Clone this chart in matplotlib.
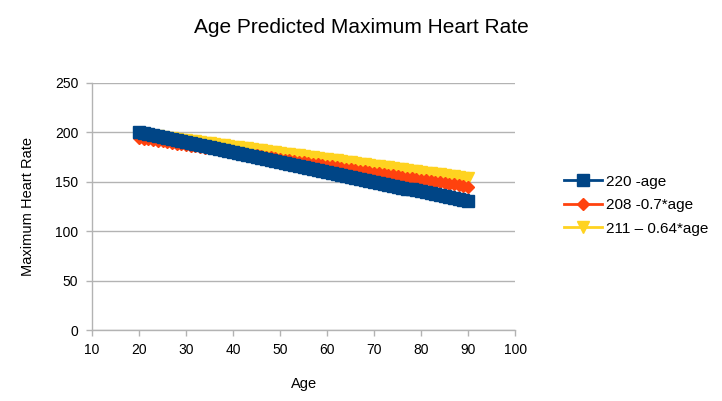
import matplotlib
matplotlib.use("Agg")
import matplotlib.pyplot as plt

plt.rcParams['font.family'] = ['Liberation Sans', 'DejaVu Sans']

ages = [20, 21, 22, 23, 24, 25, 26, 27, 28, 29, 30, 31, 32, 33, 34, 35, 36, 37, 38, 39,
        40, 41, 42, 43, 44, 45, 46, 47, 48, 49, 50, 51, 52, 53, 54, 55, 56, 57, 58, 59,
        60, 61, 62, 63, 64, 65, 66, 67, 68, 69, 70, 71, 72, 73, 74, 75, 76, 77, 78, 79,
        80, 81, 82, 83, 84, 85, 86, 87, 88, 89, 90]

hr_220 = [200, 199, 198, 197, 196, 195, 194, 193, 192, 191, 190, 189, 188, 187, 186,
          185, 184, 183, 182, 181, 180, 179, 178, 177, 176, 175, 174, 173, 172, 171,
          170, 169, 168, 167, 166, 165, 164, 163, 162, 161, 160, 159, 158, 157, 156,
          155, 154, 153, 152, 151, 150, 149, 148, 147, 146, 145, 144, 143, 142, 141,
          140, 139, 138, 137, 136, 135, 134, 133, 132, 131, 130]

hr_208 = [194.0, 193.3, 192.6, 191.9, 191.2, 190.5, 189.8, 189.1, 188.4, 187.7,
          187.0, 186.3, 185.6, 184.9, 184.2, 183.5, 182.8, 182.1, 181.4, 180.7,
          180.0, 179.3, 178.6, 177.9, 177.2, 176.5, 175.8, 175.1, 174.4, 173.7,
          173.0, 172.3, 171.6, 170.9, 170.2, 169.5, 168.8, 168.1, 167.4, 166.7,
          166.0, 165.3, 164.6, 163.9, 163.2, 162.5, 161.8, 161.1, 160.4, 159.7,
          159.0, 158.3, 157.6, 156.9, 156.2, 155.5, 154.8, 154.1, 153.4, 152.7,
          152.0, 151.3, 150.6, 149.9, 149.2, 148.5, 147.8, 147.1, 146.4, 145.7,
          145.0]

hr_211 = [198.2, 197.56, 196.92, 196.28, 195.64, 195.0, 194.36, 193.72, 193.08, 192.44,
          191.8, 191.16, 190.52, 189.88, 189.24, 188.6, 187.96, 187.32, 186.68, 186.04,
          185.4, 184.76, 184.12, 183.48, 182.84, 182.2, 181.56, 180.92, 180.28, 179.64,
          179.0, 178.36, 177.72, 177.08, 176.44, 175.8, 175.16, 174.52, 173.88, 173.24,
          172.6, 171.96, 171.32, 170.68, 170.04, 169.4, 168.76, 168.12, 167.48, 166.84,
          166.2, 165.56, 164.92, 164.28, 163.64, 163.0, 162.36, 161.72, 161.08, 160.44,
          159.8, 159.16, 158.52, 157.88, 157.24, 156.6, 155.96, 155.32, 154.68, 154.04,
          153.4]

labels = ["220 -age", "208 -0.7*age", "211 \u2013 0.64*age"]
x_ticks = [10, 20, 30, 40, 50, 60, 70, 80, 90, 100]
y_ticks = [0, 50, 100, 150, 200, 250]

fig = plt.figure(figsize=(7.22, 4.01), dpi=100)
ax = fig.add_axes([0.1275, 0.177, 0.586, 0.617])

ax.plot(ages, hr_220, color='#004586', marker='s', markersize=8.5, linewidth=2,
        label=labels[0], zorder=5)
ax.plot(ages, hr_208, color='#ff420e', marker='D', markersize=6, linewidth=2,
        label=labels[1], zorder=4)
ax.plot(ages, hr_211, color='#ffd320', marker='v', markersize=8.5, linewidth=2,
        label=labels[2], zorder=3)

ax.set_xlim(10, 100)
ax.set_ylim(0, 250)
ax.set_xticks(x_ticks)
ax.set_yticks(y_ticks)
ax.tick_params(axis='both', labelsize=10, color='#b3b3b3', length=4, width=1)
ax.tick_params(axis='x', pad=5)
ax.tick_params(axis='y', pad=6)
ax.grid(axis='y', color='#b3b3b3', linewidth=1)
ax.set_axisbelow(True)
for s in ['top', 'right']:
    ax.spines[s].set_visible(False)
for s in ['left', 'bottom']:
    ax.spines[s].set_color('#b3b3b3')
    ax.spines[s].set_linewidth(1)

ax.set_xlabel("Age", fontsize=10.5)
ax.set_ylabel("Maximum Heart Rate", fontsize=10.5)
ax.xaxis.labelpad = 15
ax.yaxis.labelpad = 14

fig.suptitle("Age Predicted Maximum Heart Rate", fontsize=15, y=0.955)

leg = ax.legend(loc='center left', bbox_to_anchor=(1.1, 0.505), frameon=False,
                fontsize=11, handlelength=2.5, labelspacing=0.62, handletextpad=0.3,
                borderaxespad=0)

fig.savefig("out.png", dpi=100)
